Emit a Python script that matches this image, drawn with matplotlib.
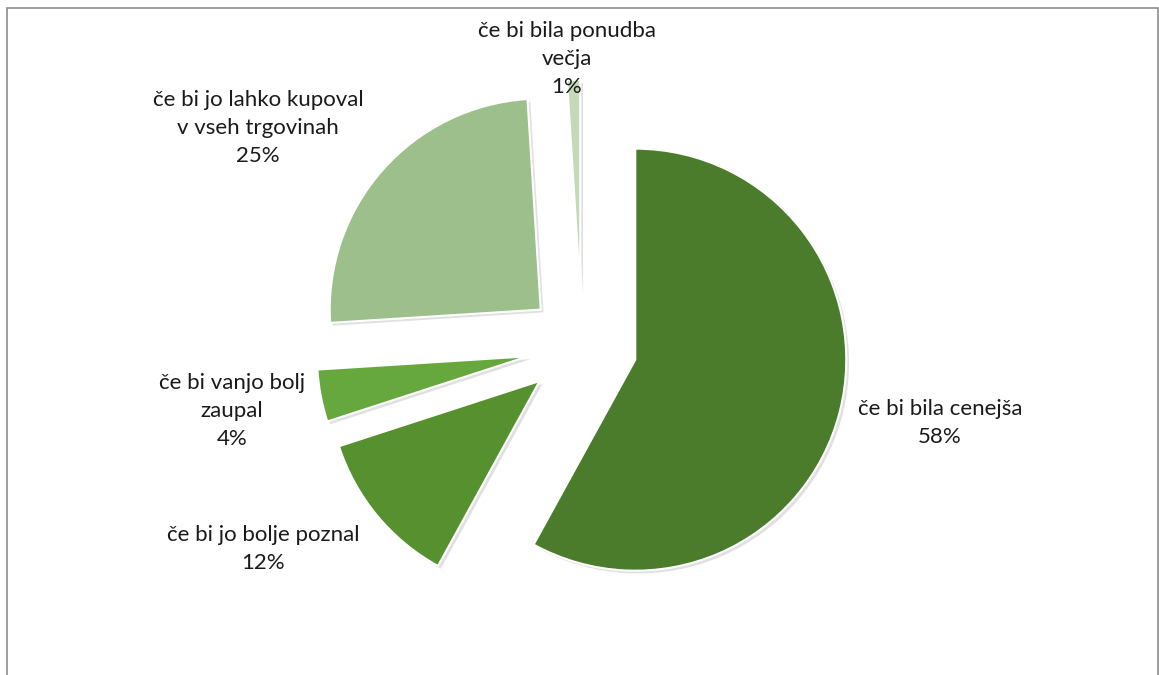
import matplotlib
matplotlib.use("Agg")
import matplotlib.pyplot as plt
from matplotlib.patches import Rectangle
import matplotlib.patheffects as pe

categories = ["če bi bila cenejša", "če bi jo bolje poznal", "če bi vanjo bolj\nzaupal",
              "če bi jo lahko kupoval\nv vseh trgovinah", "če bi bila ponudba\nvečja"]
values = [58, 12, 4, 25, 1]
colors = ["#4a7c2b", "#56902f", "#66a83d", "#9cbf8b", "#c4d9b7"]

W, H = 1159, 675
fig = plt.figure(figsize=(W / 100, H / 100), dpi=100)
ax = fig.add_axes([0, 0, 1, 1])

cx, cy, r = 582, H - 346, 211
wedges, _ = ax.pie(values, colors=colors, startangle=90, counterclock=False,
                   center=(cx, cy), radius=r, explode=[55] * len(values),
                   wedgeprops=dict(edgecolor="white", linewidth=1.5))
for w in wedges:
    w.set_path_effects([pe.SimplePatchShadow(offset=(2, -2), alpha=0.18, shadow_rgbFace="#555555"),
                        pe.Normal()])

ax.set_xlim(0, W)
ax.set_ylim(0, H)
ax.set_aspect("equal")
ax.axis("off")

font = dict(family=["Lato", "DejaVu Sans"], fontsize=16, color="#1a1a1a",
            ha="center", va="center", linespacing=1.48)
label_pos = [(940, 423), (263, 549), (232, 411), (258, 128), (567, 59)]
for (x, y), cat, v in zip(label_pos, categories, values):
    ax.text(x, H - y, f"{cat}\n{v}%", **font)

fig.patches.append(Rectangle((7 / W, -0.1), (1158 - 7) / W, 1.1 - 8 / H + 0.0,
                             transform=fig.transFigure, fill=False,
                             edgecolor="#8c8c8c", linewidth=1.2))
fig.savefig("out.png", dpi=100, facecolor="white")
